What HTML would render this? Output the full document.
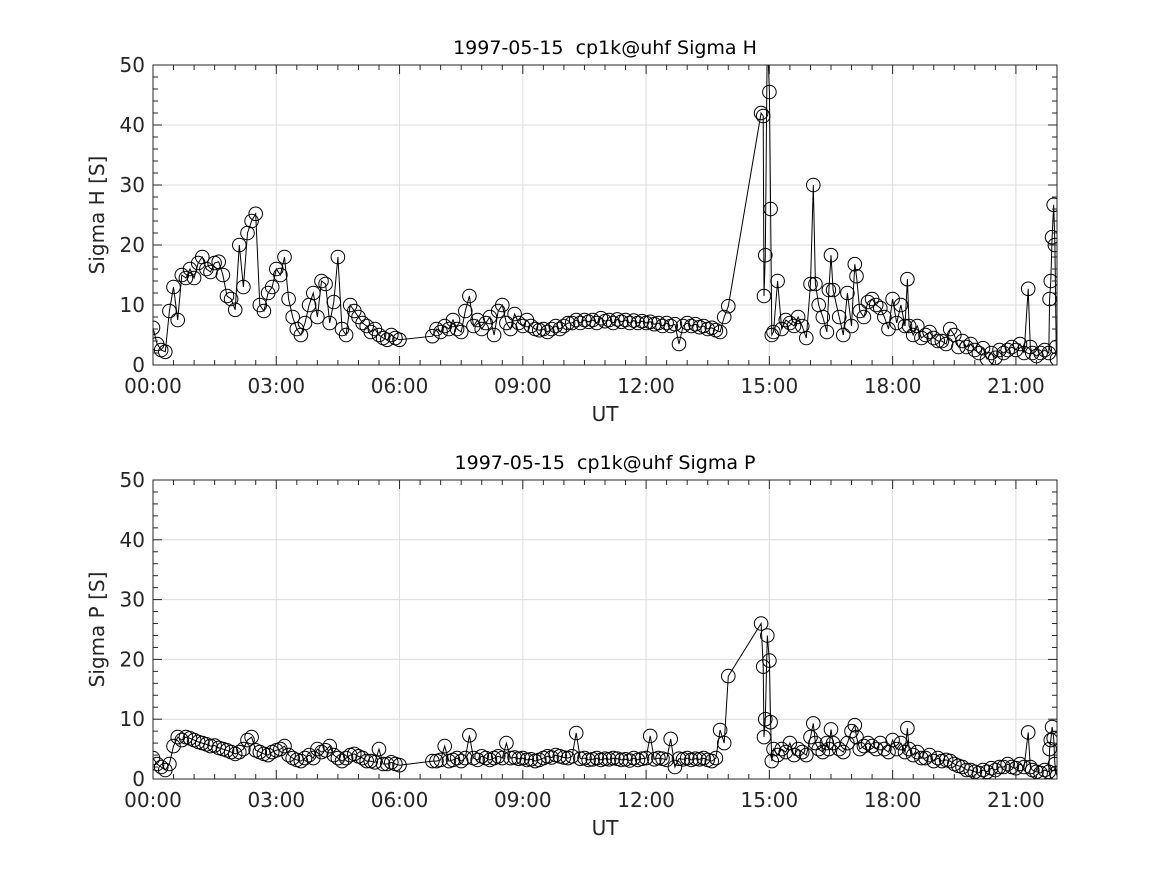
<!DOCTYPE html>
<html><head><meta charset="utf-8"><style>
body{margin:0;background:#fff}
svg{display:block;font-family:"DejaVu Sans","Liberation Sans",sans-serif}
text{white-space:pre}
</style></head><body>
<svg id="chart" width="1167" height="875" viewBox="0 0 1167 875" xmlns="http://www.w3.org/2000/svg">
<rect width="1167" height="875" fill="#fff"/>
</svg>
<script>
const times = [
0.0,0.1,0.2,0.3,0.4,0.5,0.6,0.7,0.8,0.9,1.0,1.1,1.2,1.3,1.4,1.5,1.6,1.7,1.8,1.9,2.0,2.1,2.2,2.3,2.4,2.5,2.6,2.7,2.8,2.9,3.0,3.1,3.2,3.3,3.4,3.5,3.6,3.7,3.8,3.9,4.0,4.1,4.2,4.3,4.4,4.5,4.6,4.7,4.8,4.9,5.0,5.1,5.2,5.3,5.4,5.5,5.6,5.7,5.8,5.9,6.0,
6.8,6.9,7.0,7.1,7.2,7.3,7.4,7.5,7.6,7.7,7.8,7.9,8.0,8.1,8.2,8.3,8.4,8.5,8.6,8.7,8.8,8.9,9.0,9.1,9.2,9.3,9.4,9.5,9.6,9.7,9.8,9.9,10.0,10.1,10.2,10.3,10.4,10.5,10.6,10.7,10.8,10.9,11.0,11.1,11.2,11.3,11.4,11.5,11.6,11.7,11.8,11.9,12.0,12.1,12.2,12.3,12.4,12.5,12.6,12.7,12.8,12.9,13.0,13.1,13.2,13.3,13.4,13.5,13.6,13.7,13.8,13.9,14.0,
14.8,14.85,14.87,14.9,14.95,15.0,15.03,15.06,
15.1,15.2,15.3,15.4,15.5,15.6,15.7,15.8,15.9,16.0,16.07,16.12,16.2,16.3,16.4,16.45,16.5,16.55,16.7,16.8,16.9,17.0,17.08,17.12,17.2,17.3,17.4,17.5,17.6,17.7,17.8,17.9,18.0,18.1,18.2,18.3,18.36,18.4,18.5,18.6,18.7,18.8,18.9,19.0,19.1,19.2,19.3,19.4,19.5,19.6,19.7,19.8,19.9,20.0,20.1,20.2,20.3,20.4,20.5,20.6,20.7,20.8,20.9,21.0,21.1,21.2,21.3,21.35,21.4,21.5,21.6,21.7,21.8,21.82,21.85,21.88,21.92,21.95,21.98,22.0];
const sigmaH = [
6.2,3.5,2.5,2.2,9,13,7.5,15,14.5,16,14.5,17,18,16,15.5,17,17.2,15,11.5,11,9.2,20,13,22,24,25.2,10,9,12,13,16,15,18,11,8,6,5,7,10,12,8,14,13.5,7,10.5,18,6,5,10,9,8,7,6.5,5.5,6,5,4.5,4.2,5,4.5,4.2,
4.8,6,5.5,6.5,6,7.5,6,5.5,9,11.5,6.5,7.5,6,7,8,5,9,10,7,6,8.5,7,6.5,7.5,6.5,6,5.8,6,5.5,6,6.5,6,6.5,7,7,7.5,7,7.5,7.2,7.5,7,7.8,7.3,7.5,7,7.6,7.2,7.5,7,7.4,7,7.3,7,7.2,6.8,7,6.5,7,6.5,6.8,3.5,6.5,7,6.5,6.8,6.3,6.5,6,6.2,5.8,5.5,8,9.8,
42,41.5,11.5,18.3,55,45.5,26,5,
5.5,14,6,7.5,7,6.5,8,6.5,4.5,13.5,30,13.5,10,8,5.5,12.5,18.3,12.5,8,5,12,6.5,16.8,14.8,9,8,10.5,11,10,9.5,8,6,11,7,10,6.5,14.3,6.5,5,6.5,4.5,5,5.5,4.5,4,4,3.5,6,5,3,4,3,3.5,2.5,2,2.8,1,2,1.2,2.5,2,2.5,3,2.5,3.5,2,12.7,3,2,1.5,2,2.5,2,11,14,21.3,26.7,20,3,1];
const sigmaP = [
3.5,2.5,2,1.5,2.5,5.5,7,6.5,7,6.8,6.5,6.2,6,5.8,5.5,5.6,5.2,5,4.8,4.5,4.2,4.5,5,6.5,7,4.8,4.5,4.2,4,4.5,4.8,5,5.5,4,3.5,3.2,3,3.5,4,3.5,5,4.5,4.8,5.5,4,3.5,3,3.5,4,4.2,3.8,3.5,3,3,2.8,5,2.5,2.5,2.8,2.5,2.3,
3,3,3.2,5.5,3,3.2,3.5,3,3.5,7.3,3.5,3.2,3.8,3.5,3.2,3.5,3.8,3.5,6,3.5,3.6,3.4,3.5,3.2,3.3,3,3.2,3.5,3.8,3.6,4,3.8,3.6,3.5,3.8,7.7,3.4,3.5,3.2,3.3,3.5,3.2,3.4,3.3,3.5,3.4,3.2,3.3,3.1,3.5,3.2,3.4,3.5,7.2,3.3,3.5,3.4,3.2,6.7,2,3.4,3.3,3.5,3.2,3.4,3.3,3.5,3.2,3,3.5,8.2,6,17.2,
26,18.8,7,10,24,19.8,9.5,3,
5,4,5,4.5,6,4,5,4.5,4,7,9.3,6,5,4.5,6,5,8.3,6,5,4.5,6,8,9,7,5,5.5,6,5.5,5,6,5,4.5,6.5,5,6,4.5,8.5,5,4,4.5,3.5,3.5,4,3,3.5,3,3.2,3,2.5,2.2,2,1.5,1.5,1.2,1,1.5,1.2,1.8,1.5,2,2,2.5,2,1.8,2.5,2,7.8,2,1.5,1.2,1,1.5,1.2,5,6.5,8.7,6.8,2.5,1,0.5];
const xTickLabels = ["00:00","03:00","06:00","09:00","12:00","15:00","18:00","21:00"];
const yTickLabels = ["0","10","20","30","40","50"];

const NS="http://www.w3.org/2000/svg";
const svg=document.getElementById('chart');
const X0=153,X1=1057,XMAX=22;
function mk(tag,attrs,parent){const e=document.createElementNS(NS,tag);for(const k in attrs)e.setAttribute(k,attrs[k]);(parent||svg).appendChild(e);return e;}
function xs(t){return X0+(t/XMAX)*(X1-X0);}

function panel(top,bottom,title,ylabel,vals,key){
  const ys=v=>bottom-(v/50)*(bottom-top);
  const g=mk('g',{});
  
  
  for(let h=0;h<=21;h+=3){mk('line',{x1:xs(h),x2:xs(h),y1:top,y2:bottom,stroke:'#dcdcdc','stroke-width':1},g);}
  for(let v=10;v<50;v+=10){mk('line',{x1:X0,x2:X1,y1:ys(v),y2:ys(v),stroke:'#dcdcdc','stroke-width':1},g);}
  const cp=mk('clipPath',{id:'clip-'+key},g);
  mk('rect',{x:X0,y:top,width:X1-X0,height:bottom-top},cp);
  const dg=mk('g',{'clip-path':'url(#clip-'+key+')'},g);
  let d='';
  times.forEach((t,i)=>{d+=(i?'L':'M')+xs(t).toFixed(1)+' '+ys(vals[i]).toFixed(1);});
  const line=mk('path',{d:d,fill:'none',stroke:'#000','stroke-width':1},dg);
  
  
  times.forEach((t,i)=>{
    const c=mk('circle',{cx:xs(t).toFixed(1),cy:ys(vals[i]).toFixed(1),r:6.8,fill:'none',stroke:'#000','stroke-width':1},dg);
    
    
  });
  mk('rect',{x:X0,y:top,width:X1-X0,height:bottom-top,fill:'none',stroke:'#262626','stroke-width':1},g);
  for(let m=0;m<=22*60;m+=30){const h=m/60;const x=xs(h);const L=(m%180===0)?9:5;
    mk('line',{x1:x,x2:x,y1:bottom,y2:bottom-L,stroke:'#262626'},g);mk('line',{x1:x,x2:x,y1:top,y2:top+L,stroke:'#262626'},g);}
  xTickLabels.forEach((s,i)=>{const tx=mk('text',{x:xs(i*3),y:bottom+28,'text-anchor':'middle','font-size':20,fill:'#262626'},g);tx.textContent=s;
    });
  for(let v=0;v<=50;v+=2){const y=ys(v);const L=(v%10===0)?9:5;
    mk('line',{x1:X0,x2:X0+L,y1:y,y2:y,stroke:'#262626'},g);mk('line',{x1:X1,x2:X1-L,y1:y,y2:y,stroke:'#262626'},g);}
  yTickLabels.forEach((s,i)=>{const tx=mk('text',{x:X0-8,y:ys(i*10)+7,'text-anchor':'end','font-size':20,fill:'#262626'},g);tx.textContent=s;
    });
  const tt=mk('text',{x:605,y:top-11,'text-anchor':'middle','font-size':19,fill:'#000'},g);tt.textContent=title;
  
  const xl=mk('text',{x:605,y:bottom+56,'text-anchor':'middle','font-size':20,fill:'#262626'},g);xl.textContent='UT';
  
  const yl=mk('text',{x:0,y:0,'text-anchor':'middle','font-size':20,fill:'#262626',transform:'translate(104,'+((top+bottom)/2)+') rotate(-90)'},g);yl.textContent=ylabel;
  
}
panel(65,365,'1997-05-15  cp1k@uhf Sigma H','Sigma H [S]',sigmaH,'sigma-h');
panel(480,779,'1997-05-15  cp1k@uhf Sigma P','Sigma P [S]',sigmaP,'sigma-p');
</script>
</body></html>
